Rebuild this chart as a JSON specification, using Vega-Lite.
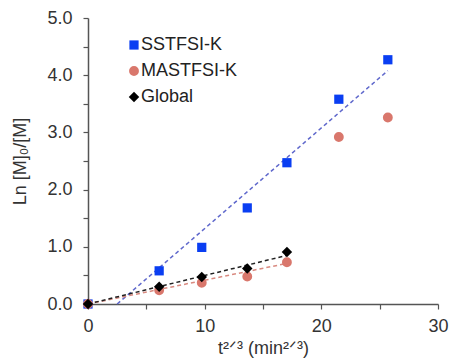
{
  "$schema": "https://vega.github.io/schema/vega-lite/v6.json",
  "autosize": {"type": "none"},
  "width": 350,
  "height": 286,
  "padding": {"left": 88, "top": 18, "right": 11, "bottom": 59},
  "background": "white",
  "config": {
    "font": "Liberation Sans",
    "view": {"stroke": null},
    "axis": {"grid": false, "labelFlush": false, "domainColor": "#555", "domainWidth": 1.5, "tickColor": "#555", "tickWidth": 1.2, "tickSize": 5, "labelFontSize": 18, "labelColor": "#333", "titleFontSize": 18, "titleFontWeight": "normal", "titleColor": "#333"}
  },
  "datasets": {
    "pts": [
      {"x": 0, "y": 0, "series": "SSTFSI-K"},
      {"x": 6.1, "y": 0.58, "series": "SSTFSI-K"},
      {"x": 9.75, "y": 0.99, "series": "SSTFSI-K"},
      {"x": 13.65, "y": 1.68, "series": "SSTFSI-K"},
      {"x": 17.05, "y": 2.47, "series": "SSTFSI-K"},
      {"x": 21.5, "y": 3.58, "series": "SSTFSI-K"},
      {"x": 25.7, "y": 4.27, "series": "SSTFSI-K"},
      {"x": 0, "y": 0, "series": "MASTFSI-K"},
      {"x": 6.1, "y": 0.24, "series": "MASTFSI-K"},
      {"x": 9.75, "y": 0.37, "series": "MASTFSI-K"},
      {"x": 13.65, "y": 0.48, "series": "MASTFSI-K"},
      {"x": 17.05, "y": 0.73, "series": "MASTFSI-K"},
      {"x": 21.5, "y": 2.92, "series": "MASTFSI-K"},
      {"x": 25.7, "y": 3.26, "series": "MASTFSI-K"},
      {"x": 0, "y": 0, "series": "Global"},
      {"x": 6.1, "y": 0.3, "series": "Global"},
      {"x": 9.75, "y": 0.47, "series": "Global"},
      {"x": 13.65, "y": 0.62, "series": "Global"},
      {"x": 17.05, "y": 0.91, "series": "Global"}
    ],
    "fits": [
      {"x": 2.5, "y": 0, "fit": "SSTFSI-K fit"},
      {"x": 25.7, "y": 4.08, "fit": "SSTFSI-K fit"},
      {"x": 0, "y": 0, "fit": "MASTFSI-K fit"},
      {"x": 17.05, "y": 0.71, "fit": "MASTFSI-K fit"},
      {"x": 0, "y": 0, "fit": "Global fit"},
      {"x": 17.05, "y": 0.85, "fit": "Global fit"}
    ]
  },
  "encoding": {
    "x": {"field": "x", "type": "quantitative", "scale": {"domain": [0, 30], "nice": false},
      "axis": {"values": [0, 5, 10, 15, 20, 25, 30], "labelExpr": "datum.value % 10 == 0 ? datum.label : ''", "labelPadding": 8, "title": "t²ᐟ³ (min²ᐟ³)", "titlePadding": 4}},
    "y": {"field": "y", "type": "quantitative", "scale": {"domain": [0, 5], "nice": false},
      "axis": {"values": [0, 0.5, 1, 1.5, 2, 2.5, 3, 3.5, 4, 4.5, 5], "labelExpr": "datum.value % 1 == 0 ? format(datum.value, '.1f') : ''", "labelPadding": 11, "title": "Ln [M]₀/[M]", "titlePadding": 17}}
  },
  "layer": [
    {
      "data": {"name": "fits"},
      "mark": {"type": "line", "strokeDash": [4, 3], "strokeWidth": 1.5},
      "encoding": {
        "stroke": {"field": "fit", "type": "nominal", "legend": null,
          "scale": {"domain": ["SSTFSI-K fit", "MASTFSI-K fit", "Global fit"], "range": ["#5f68cc", "#d98a80", "#222222"]}}
      }
    },
    {
      "data": {"name": "pts"},
      "mark": {"type": "point", "filled": true, "opacity": 1},
      "encoding": {
        "color": {"field": "series", "type": "nominal",
          "scale": {"domain": ["SSTFSI-K", "MASTFSI-K", "Global"], "range": ["#0a3ef2", "#d9776c", "#000000"]},
          "legend": {"title": null, "orient": "none", "legendX": 37, "legendY": 18, "labelFontSize": 18, "labelColor": "#222", "symbolSize": 64, "rowPadding": 8, "labelOffset": -2, "symbolOpacity": 1}},
        "shape": {"field": "series", "type": "nominal",
          "scale": {"domain": ["SSTFSI-K", "MASTFSI-K", "Global"], "range": ["square", "circle", "diamond"]}},
        "size": {"field": "series", "type": "nominal", "legend": null,
          "scale": {"domain": ["SSTFSI-K", "MASTFSI-K", "Global"], "range": [85, 110, 80]}},
        "order": {"field": "series", "sort": "descending"}
      }
    }
  ]
}
